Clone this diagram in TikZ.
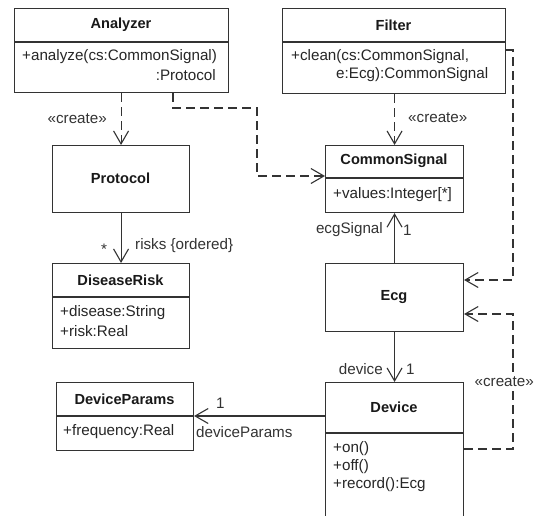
\documentclass[tikz,border=0pt]{standalone}
\usepackage{fontspec}
\setmainfont{Liberation Sans}
\usetikzlibrary{arrows.meta,calc}
\begin{document}
\begin{tikzpicture}[x=1pt,y=-1pt,
  cls/.style={draw=black!80, line width=1.1pt, anchor=north west, inner sep=0, fill=white},
  divider/.style={draw=black!80, line width=1.1pt},
  title/.style={font=\fontsize{14.6}{17}\selectfont\bfseries, text=black!90, inner sep=0},
  txt/.style={font=\fontsize{15.2}{18}\selectfont, text=black!85, inner sep=0},
  lbl/.style={font=\fontsize{15.2}{18}\selectfont, text=black!80, inner sep=0},
  tip/.style={-{Straight Barb[length=13pt,width=15pt,line width=1.1pt]}},
  dep/.style={draw=black!80, line width=1.1pt, dash pattern=on 9pt off 5pt, tip},
  assoc/.style={draw=black!80, line width=1.1pt, tip}]
\useasboundingbox (0,0) rectangle (535,515);
\fill[white] (0,0) rectangle (535,515);
\clip (0,0) rectangle (535,515);

% Analyzer
\node[cls, minimum width=214pt, minimum height=84pt] (analyzer) at (14,8) {};
\draw[divider] (14,42) -- (228,42);
\node[title] (analyzerT) at (121,25) {Analyzer};
\node[txt, anchor=west] (analyzerO1) at (22,57) {+analyze(cs:CommonSignal)};
\node[txt, anchor=east] (analyzerO2) at (216,75) {:Protocol};

% Filter
\node[cls, minimum width=223pt, minimum height=85pt] (filter) at (282,8) {};
\draw[divider] (282,42) -- (505,42);
\node[title] (filterT) at (393.5,25) {Filter};
\node[txt, anchor=west] (filterO1) at (291,57) {+clean(cs:CommonSignal,};
\node[txt, anchor=west] (filterO2) at (336,75) {e:Ecg):CommonSignal};

% Protocol
\node[cls, minimum width=137pt, minimum height=67pt] (protocol) at (52,145) {};
\node[title] (protocolT) at (120.5,178) {Protocol};

% CommonSignal
\node[cls, minimum width=138pt, minimum height=67pt] (common) at (325,145) {};
\draw[divider] (325,178) -- (463,178);
\node[title] (commonT) at (394,161) {CommonSignal};
\node[txt, anchor=west] (commonA) at (333,195) {+values:Integer[*]};

% DiseaseRisk
\node[cls, minimum width=137pt, minimum height=85pt] (risk) at (52,263) {};
\draw[divider] (52,297) -- (189,297);
\node[title] (riskT) at (120.5,280) {DiseaseRisk};
\node[txt, anchor=west] (riskA1) at (60,313) {+disease:String};
\node[txt, anchor=west] (riskA2) at (60,331) {+risk:Real};

% Ecg
\node[cls, minimum width=138pt, minimum height=68pt] (ecg) at (325,263) {};
\node[title] (ecgT) at (394,297) {Ecg};

% DeviceParams
\node[cls, minimum width=137pt, minimum height=68pt] (params) at (56,382) {};
\draw[divider] (56,416) -- (193,416);
\node[title] (paramsT) at (124.5,399) {DeviceParams};
\node[txt, anchor=west] (paramsA) at (63,432) {+frequency:Real};

% Device
\node[cls, minimum width=138pt, minimum height=170pt] (device) at (325,382) {};
\draw[divider] (325,433) -- (463,433);
\node[title] (deviceT) at (394,407) {Device};
\node[txt, anchor=west] (deviceO1) at (333,449) {+on()};
\node[txt, anchor=west] (deviceO2) at (333,467) {+off()};
\node[txt, anchor=west] (deviceO3) at (333,485) {+record():Ecg};

% Connectors
\draw[dep] (analyzer.south -| protocol.north) -- (protocol.north);
\node[lbl, anchor=east] (c1) at (107,119) {«create»};

\draw[dep] (analyzer.south -| 173,0) -- (173,108) -- (257,108) -- (257,176) -- (common.west |- 0,176);

\draw[dep] (filter.south -| common.north) -- (common.north);
\node[lbl, anchor=west] (c2) at (408,118) {«create»};

\draw[dep] (filter.east |- 0,50) -- (513,50) -- (513,280) -- (ecg.east |- 0,280);

\draw[dep] (device.east |- 0,449) -- (513,449) -- (513,314) -- (ecg.east |- 0,314);
\node[lbl, anchor=east, fill=white, inner sep=1pt] (c3) at (535,382) {«create»};

\draw[assoc] (ecg.north) -- (common.south);
\node[lbl, anchor=east] (l1) at (383,230) {ecgSignal};
\node[lbl, anchor=west] (l2) at (403,230) {1};

\draw[assoc] (ecg.south) -- (device.north);
\node[lbl, anchor=east] (l3) at (383,369) {device};
\node[lbl, anchor=west] (l4) at (406,369) {1};

\draw[assoc] (device.west |- 0,416) -- (params.east |- 0,416);
\node[lbl, anchor=west] (l5) at (216,403) {1};
\node[lbl, anchor=west] (l6) at (196,432) {deviceParams};

\draw[assoc] (protocol.south) -- (risk.north);
\node[lbl] (l7) at (104,249) {*};
\node[lbl, anchor=west] (l8) at (135,246) {risks \{ordered\}};
\end{tikzpicture}
\end{document}
